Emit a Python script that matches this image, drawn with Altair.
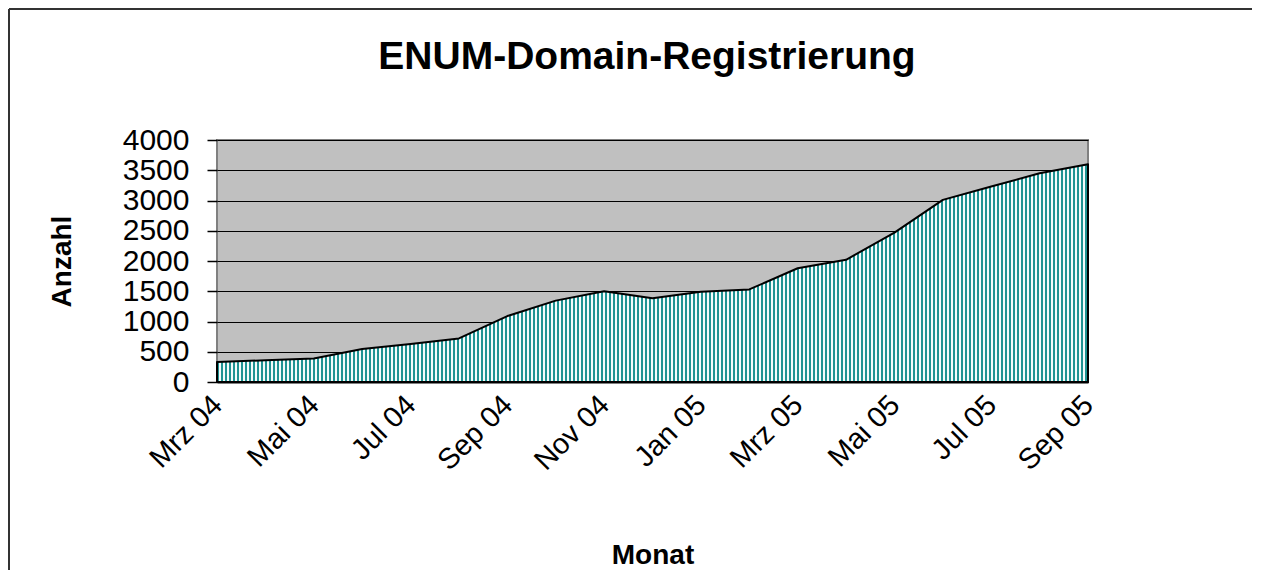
import altair as alt
import pandas as pd

months = ["Mrz 04", "Apr 04", "Mai 04", "Jun 04", "Jul 04", "Aug 04", "Sep 04",
          "Okt 04", "Nov 04", "Dez 04", "Jan 05", "Feb 05", "Mrz 05", "Apr 05",
          "Mai 05", "Jun 05", "Jul 05", "Aug 05", "Sep 05"]
anzahl = [330, 360, 390, 545, 630, 720, 1090, 1345, 1500, 1385, 1490, 1530,
          1880, 2020, 2470, 3010, 3230, 3450, 3600]
y_ticks = [0, 500, 1000, 1500, 2000, 2500, 3000, 3500, 4000]
x_labels = months[::2]
title_text = "ENUM-Domain-Registrierung"

df = pd.DataFrame({"Monat": months, "Anzahl": anzahl})

W, H = 871, 242
FONT = "Liberation Sans"

# vertical stripe pattern (teal / white) as a hard-stop gradient
period = 4.0 / W
stops = []
k = 0
while k * period < 1:
    s = k * period
    m = min(s + 0.45 * period, 1.0)
    e = min(s + period, 1.0)
    stops += [alt.GradientStop(offset=s, color="#1f9393"),
              alt.GradientStop(offset=m, color="#1f9393"),
              alt.GradientStop(offset=m, color="#f4fbfb"),
              alt.GradientStop(offset=e, color="#f4fbfb")]
    k += 1
stripe = alt.LinearGradient(gradient="linear", stops=stops, x1=0, x2=1, y1=0, y2=0)

area = alt.Chart(df).mark_area(
    fill=stripe, stroke="black", strokeWidth=2, strokeJoin="round"
).encode(
    x=alt.X("Monat:O", sort=None,
            scale=alt.Scale(type="point", padding=0),
            axis=alt.Axis(title="Monat", values=x_labels, labelAngle=-45,
                          labelAlign="right", labelBaseline="middle",
                          labelFont=FONT, labelFontSize=29, labelColor="black",
                          labelPadding=18, ticks=False,
                          domainColor="black", domainWidth=2,
                          titleFont=FONT, titleFontSize=28, titleFontWeight="bold",
                          titleColor="black", titlePadding=66, grid=False,
                          labelOverlap=False)),
    y=alt.Y("Anzahl:Q",
            scale=alt.Scale(domain=[0, 4000], nice=False),
            axis=alt.Axis(title="Anzahl", values=y_ticks, format="d",
                          labelFont=FONT, labelFontSize=30, labelColor="black",
                          labelPadding=18, tickSize=10, tickColor="black",
                          tickWidth=1.5, domain=False, gridColor="black",
                          gridWidth=1, titleFont=FONT, titleFontSize=28,
                          titleFontWeight="bold", titleColor="black",
                          titlePadding=46))
)

one = pd.DataFrame({"a": [0]})
border_top = alt.Chart(one).mark_rule(color="#333333", strokeWidth=2).encode(
    x=alt.value(-208), x2=alt.value(1035), y=alt.value(-131))
border_left = alt.Chart(one).mark_rule(color="#333333", strokeWidth=2).encode(
    x=alt.value(-208), y=alt.value(-131), y2=alt.value(430))
title = alt.Chart(one).mark_text(
    text=title_text, font=FONT, fontSize=39, fontWeight="bold",
    align="center", baseline="middle", color="black"
).encode(x=alt.value(430), y=alt.value(-83))

chart = alt.layer(area, border_top, border_left, title).properties(
    width=W, height=H, padding=0
).configure_view(fill="#C0C0C0", stroke="#808080", strokeWidth=2)

chart.save("out.html", embed_options={"renderer": "svg", "actions": False})
